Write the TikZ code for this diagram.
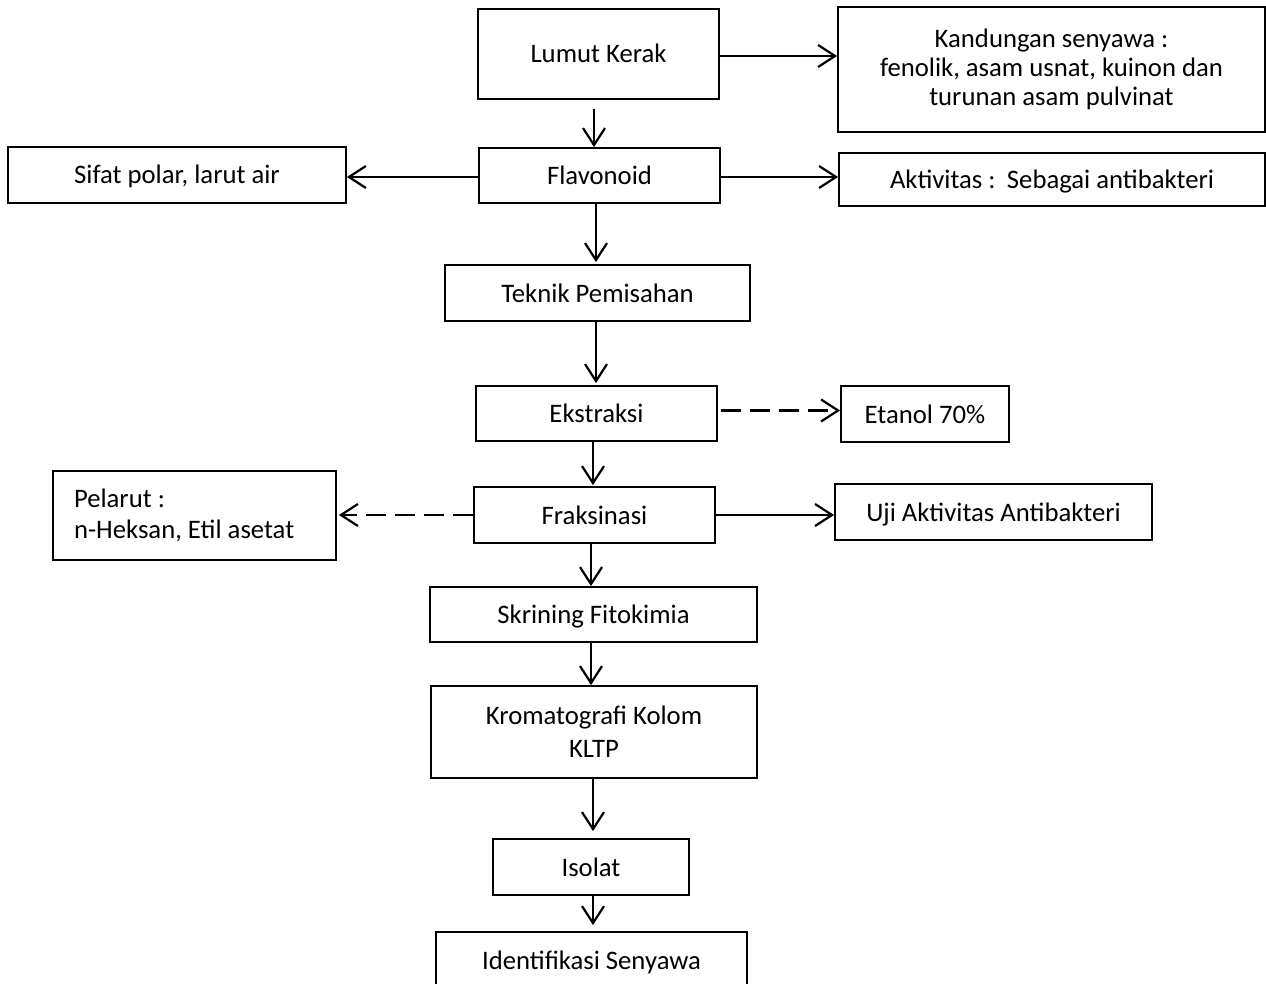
\documentclass[tikz,border=0pt]{standalone}
\usepackage{fontspec}
\setmainfont{Carlito}
\usetikzlibrary{arrows.meta}
\frenchspacing
\begin{document}
\begin{tikzpicture}[x=1pt,y=-1pt,
  box/.style={draw, line width=1.8pt, inner sep=0pt, align=center,
    font=\fontsize{26.7}{29}\selectfont},
  one/.style={text height=22pt, text depth=4pt},
  arr/.style={line width=2.2pt, -{Straight Barb[length=17pt,width=22pt]}},
  dasharr/.style={arr, dash pattern=on 20pt off 9pt},
]
\useasboundingbox (0,0) rectangle (1266,984);

% main column
\node[box, one, minimum width=241pt, minimum height=90pt] (lumut) at (598.5,54) {Lumut Kerak};
\node[box, one, minimum width=241pt, minimum height=55pt] (flav) at (599.5,175.5) {Flavonoid};
\node[box, one, minimum width=305pt, minimum height=56pt] (teknik) at (597.5,293) {Teknik Pemisahan};
\node[box, one, minimum width=241pt, minimum height=55pt] (ekstr) at (596.5,413.5) {Ekstraksi};
\node[box, one, minimum width=241pt, minimum height=56pt] (fraks) at (594.5,515) {Fraksinasi};
\node[box, one, minimum width=327pt, minimum height=55pt] (skrin) at (593.5,614.5) {Skrining Fitokimia};
\node[box, minimum width=326pt, minimum height=92pt, font=\fontsize{26.7}{33}\selectfont] (krom) at (594,732) {Kromatografi Kolom\\KLTP};
\node[box, one, minimum width=196pt, minimum height=56pt] (isolat) at (591,867) {Isolat};
\node[box, one, minimum width=311pt, minimum height=56pt] (ident) at (591.5,960) {Identifikasi Senyawa};

% side boxes
\node[box, minimum width=427pt, minimum height=125pt] (kand) at (1051.5,69.5)
  {Kandungan senyawa :\\fenolik, asam usnat, kuinon dan\\turunan asam pulvinat};
\node[box, one, minimum width=338pt, minimum height=56pt] (sifat) at (177,175) {Sifat polar, larut air};
\node[box, one, minimum width=426pt, minimum height=53pt] (aktiv) at (1052,179.5) {Aktivitas :\hspace{0.2em} Sebagai antibakteri};
\node[box, one, minimum width=168pt, minimum height=56pt] (etanol) at (925,414) {Etanol 70\%};
\node[box, align=flush left, text width=241pt, inner xsep=21pt, minimum height=89pt,
  font=\fontsize{26.7}{31}\selectfont] (pelarut) at (194.5,515.5) {Pelarut :\\n-Heksan, Etil asetat};
\node[box, one, minimum width=317pt, minimum height=56pt] (uji) at (993.5,512) {Uji Aktivitas Antibakteri};

% vertical flow
\draw[arr] ([xshift=-4.5pt,yshift=-9pt]lumut.south) -- ([xshift=-5.5pt]flav.north);
\draw[arr] ([xshift=-3.5pt]flav.south) -- ([xshift=-1.5pt,yshift=2pt]teknik.north);
\draw[arr] ([xshift=-1.5pt]teknik.south) -- ([xshift=-0.5pt,yshift=2pt]ekstr.north);
\draw[arr] ([xshift=-3.5pt]ekstr.south) -- ([xshift=-1.5pt,yshift=1pt]fraks.north);
\draw[arr] ([xshift=-3.5pt]fraks.south) -- ([xshift=-2.5pt]skrin.north);
\draw[arr] ([xshift=-2.5pt]skrin.south) -- ([xshift=-3pt]krom.north);
\draw[arr] ([xshift=-1pt]krom.south) -- ([xshift=2pt,yshift=7pt]isolat.north);
\draw[arr] ([xshift=2pt]isolat.south) -- ([xshift=1.5pt,yshift=6pt]ident.north);

% side links
\draw[arr] ([yshift=-2pt]lumut.east) -- ([yshift=13.5pt]kand.west);
\draw[arr] ([yshift=-1.5pt]flav.east) -- ([yshift=2.5pt]aktiv.west);
\draw[arr] ([yshift=-1.5pt]flav.west) -- ([yshift=-2pt]sifat.east);
\draw[dasharr] ([xshift=3pt,yshift=3pt]ekstr.east) -- ([yshift=3.5pt]etanol.west);
\draw[dasharr] (fraks.west) -- ([xshift=2pt,yshift=0.5pt]pelarut.east);
\draw[arr] (fraks.east) -- ([yshift=-3pt]uji.west);
\end{tikzpicture}
\end{document}
